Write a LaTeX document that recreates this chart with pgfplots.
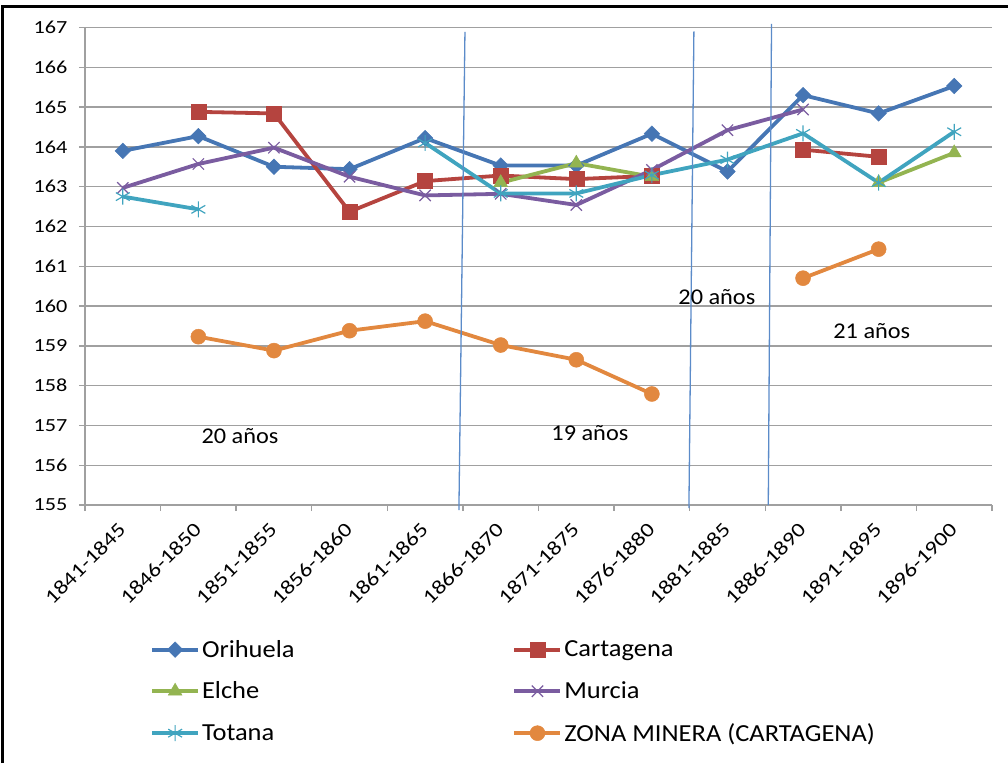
\documentclass[border=0pt]{standalone}
\usepackage{fontspec}
\setmainfont{Carlito}
\newfontfamily\tickfont{Carlito}[FakeStretch=1.2]
\newfontfamily\legfont{Carlito}[FakeStretch=1.08]
\usepackage{pgfplots}
\pgfplotsset{compat=1.18}
\definecolor{cOri}{HTML}{4676B4}
\definecolor{cCar}{HTML}{B5443F}
\definecolor{cElc}{HTML}{93B451}
\definecolor{cMur}{HTML}{7A5CA0}
\definecolor{cTot}{HTML}{40A4BF}
\definecolor{cZon}{HTML}{E2883F}
\definecolor{cVl}{HTML}{5B8BC9}
\definecolor{cGrid}{HTML}{A0A0A0}
\begin{document}
\begin{tikzpicture}
\useasboundingbox (-85pt,-258pt) rectangle (923pt,505pt);
\draw[black, line width=3pt] (-82pt,-258pt) -- (-82pt,498pt) -- (923pt,498pt);
\begin{axis}[
  at={(0pt,0pt)}, anchor=south west,
  scale only axis, width=907pt, height=477.5pt,
  xmin=-0.5, xmax=11.5, ymin=155, ymax=167,
  axis x line*=bottom, axis y line*=left,
  xtick pos=bottom, ytick pos=left,
  axis line style={draw=cGrid, line width=1.4pt},
  ytick={155,156,...,167},
  ymajorgrids, grid style={cGrid, line width=1.4pt},
  xtick={0,...,11},
  xticklabels={1841-1845,1846-1850,1851-1855,1856-1860,1861-1865,1866-1870,1871-1875,1876-1880,1881-1885,1886-1890,1891-1895,1896-1900},
  minor xtick={-0.5,0.5,...,11.5},
  every major x tick/.append style={draw=none},
  every minor x tick/.append style={draw=cGrid, line width=1.4pt},
  every major y tick/.append style={draw=cGrid, line width=1.4pt},
  tick align=outside,
  major tick length=6pt, minor tick length=6pt,
  /pgf/number format/assume math mode=true,
  yticklabel style={font=\tickfont\fontsize{18.5}{22}\selectfont, xshift=-8pt},
  xticklabel style={rotate=45, anchor=north east, font=\tickfont\fontsize{20}{24}\selectfont, xshift=-8pt, yshift=0pt},
  clip=false,
  unbounded coords=jump,
  legend columns=2,
  legend cell align=left,
  legend style={at={(axis description cs:0.0717,-0.279)}, anchor=north west, draw=none, fill=none,
    font=\legfont\fontsize{24.5}{29}\selectfont, row sep=19pt, inner sep=0pt,
    /tikz/every even column/.append style={column sep=216pt}},
  legend image code/.code={\draw[mark repeat=2,mark phase=2,#1] plot coordinates {(0pt,0pt) (23pt,0pt) (46pt,0pt)};},
  every axis plot/.append style={line width=3.8pt},
]
\addplot[cOri, mark=square*, mark size=5.5pt, mark options={rotate=45, line width=0.5pt}] coordinates {
(0,163.9) (1,164.27) (2,163.5) (3,163.44) (4,164.22) (5,163.53) (6,163.53) (7,164.33) (8,163.38) (9,165.3) (10,164.84) (11,165.53)};
\addlegendentry{Orihuela}
\addplot[cCar, mark=square*, mark size=7.5pt, mark options={line width=0.5pt}] coordinates {
(1,164.88) (2,164.84) (3,162.37) (4,163.14) (5,163.28) (6,163.19) (7,163.27) (8,nan) (9,163.93) (10,163.75)};
\addlegendentry{Cartagena}
\addplot[cElc, mark=triangle*, mark size=8pt, mark options={line width=0.5pt}] coordinates {
(5,163.1) (6,163.59) (7,163.25) (8,nan) (9,nan) (10,163.1) (11,163.85)};
\addlegendentry{Elche}
\addplot[cMur, mark=x, mark size=8pt, mark options={line width=1.2pt}] coordinates {
(0,162.97) (1,163.57) (2,163.98) (3,163.25) (4,162.78) (5,162.82) (6,162.54) (7,163.42) (8,164.42) (9,164.94)};
\addlegendentry{Murcia}
\addplot[cTot, mark=asterisk, mark size=8pt, mark options={line width=1.2pt}] coordinates {
(0,162.75) (1,162.43) (2,nan) (3,nan) (4,164.1) (5,162.83) (6,162.83) (7,163.29) (8,163.68) (9,164.34) (10,163.1) (11,164.38)};
\addlegendentry{Totana}
\addplot[cZon, mark=*, mark size=7.5pt, mark options={line width=0.5pt}] coordinates {
(1,159.23) (2,158.88) (3,159.38) (4,159.62) (5,159.02) (6,158.65) (7,157.79) (8,nan) (9,160.7) (10,161.43)};
\addlegendentry{ZONA MINERA (CARTAGENA)}
\addplot[cVl, line width=1.3pt, no marks, forget plot] coordinates {(4.527,166.89) (4.447,154.87)};
\addplot[cVl, line width=1.3pt, no marks, forget plot] coordinates {(7.556,166.9) (7.49,154.92)};
\addplot[cVl, line width=1.3pt, no marks, forget plot] coordinates {(8.583,167.09) (8.54,155.0)};
\node[font=\legfont\fontsize{22.5}{26}\selectfont] at (axis cs:1.55,156.74) {20 años};
\node[font=\legfont\fontsize{22.5}{26}\selectfont] at (axis cs:6.18,156.81) {19 años};
\node[font=\legfont\fontsize{22.5}{26}\selectfont] at (axis cs:7.86,160.23) {20 años};
\node[font=\legfont\fontsize{22.5}{26}\selectfont] at (axis cs:9.91,159.37) {21 años};
\end{axis}
\end{tikzpicture}
\end{document}
